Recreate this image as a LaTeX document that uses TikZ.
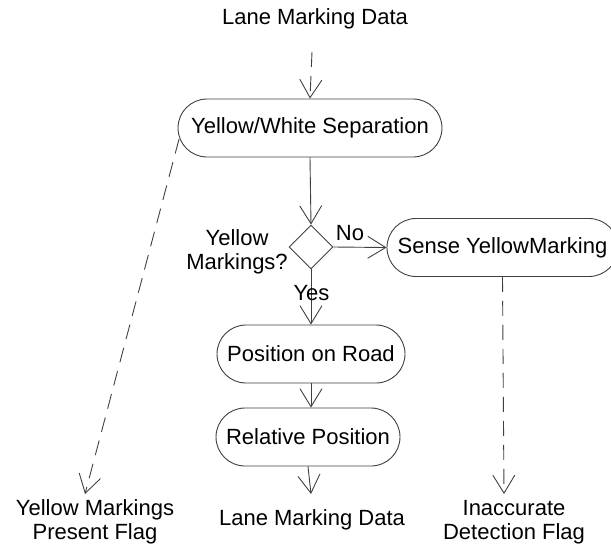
\documentclass[tikz,border=0pt]{standalone}
\usepackage{fontspec}
\setmainfont{Liberation Sans}
\usetikzlibrary{arrows.meta,shapes.geometric}
\begin{document}
\begin{tikzpicture}[x=1pt,y=-1pt,
  every node/.style={font=\fontsize{22pt}{24pt}\selectfont, inner sep=0pt},
  action/.style={draw=black!75, line width=0.9pt, rounded corners=29pt, minimum height=58pt},
  decision/.style={diamond, draw=black!75, line width=0.9pt, minimum width=44pt, minimum height=44pt, inner sep=0pt},
  flow/.style={draw=black!75, line width=0.9pt, -{Straight Barb[length=18pt,width=22pt,line width=0.9pt]}},
  objflow/.style={flow, dash pattern=on 15pt off 9pt},
  lbl/.style={align=center}]
  \clip (0,0) rectangle (611,547);

  % activity nodes
  \node (top) at (315,19) {Lane Marking Data};
  \coordinate (topstart) at (312,52);
  \node[action, minimum width=264pt] (yw) at (310,128) {Yellow/White Separation};
  \node[decision] (dia) at (311,247) {};
  \node[lbl] (q) at (237,252) {Yellow\\Markings?};
  \node[action, minimum width=231pt] (sense) at (502.5,247.5) {Sense YellowMarking};
  \node[action, minimum width=188pt] (pos) at (311,354) {Position on Road};
  \node[action, minimum width=184pt] (rel) at (308,437) {Relative Position};

  % outputs
  \coordinate (e1) at (85,494);
  \coordinate (e2) at (311,494);
  \coordinate (e3) at (504,494);
  \node[lbl] (f1) at (95,522) {Yellow Markings\\Present Flag};
  \node (out) at (312,520) {Lane Marking Data};
  \node[lbl] (f3) at (514,522) {Inaccurate\\Detection Flag};

  % control and object flows
  \draw[objflow] (topstart) -- (yw.north);
  \draw[flow] (yw.south) -- (dia.north);
  \draw[flow] (dia.east) -- (sense.west);
  \draw[flow] (dia.south) -- (pos.north);
  \draw[flow] (pos.south) -- (pos.south |- rel.north);
  \draw[flow] (rel.south) -- (e2);
  \draw[objflow] (sense.south) -- (e3);
  \draw[objflow] ([xshift=1.5pt,yshift=-11pt]yw.west) -- (e1);

  % guard labels
  \node (no) at (350,233) {No};
  \node (yes) at (311.5,293) {Yes};
\end{tikzpicture}
\end{document}
